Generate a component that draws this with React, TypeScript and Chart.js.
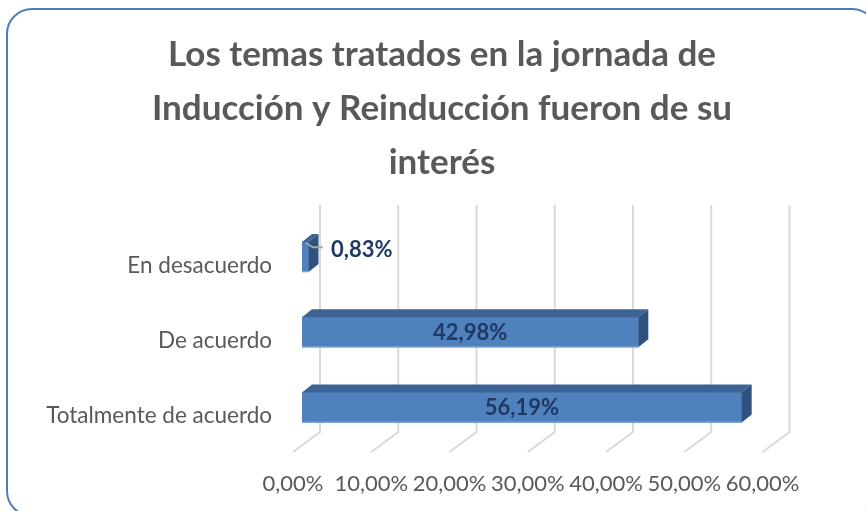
import React, { useEffect, useRef } from 'react';
import { Chart, registerables } from 'chart.js';

Chart.register(...registerables);

const TITLE_LINES = [
  'Los temas tratados en la jornada de',
  'Inducción y Reinducción fueron de su',
  'interés',
];
const CATEGORIES = ['En desacuerdo', 'De acuerdo', 'Totalmente de acuerdo'];
const VALUES = [0.83, 42.98, 56.19];
const TICK_VALUES = [0, 10, 20, 30, 40, 50, 60];

const FONT = 'Lato, "Open Sans", sans-serif';
const TEXT_GRAY = '#595959';
const LABEL_NAVY = '#1F3864';
const BAR_FRONT = '#4F81BD';
const BAR_TOP = '#3D6396';
const BAR_SIDE = '#30517E';
const GRID = '#D9D9D9';

const fmt = (v: number) => v.toFixed(2).replace('.', ',') + '%';

const threeD = {
  id: 'threeD',
  beforeDatasetsDraw(chart: any) {
    const { ctx, chartArea, scales } = chart;
    const x = scales.x;
    const wallTop = chartArea.top - 14.5;
    const wallBottom = chartArea.bottom - 13;
    const floorFront = wallBottom + 20;
    ctx.save();
    ctx.strokeStyle = GRID;
    ctx.lineWidth = 2;
    x.ticks.forEach((t: any) => {
      const px = x.getPixelForValue(t.value) + 18;
      ctx.beginPath();
      ctx.moveTo(px, wallTop);
      ctx.lineTo(px, wallBottom);
      ctx.lineTo(px - 27, floorFront);
      ctx.stroke();
    });
    ctx.restore();
  },
  afterDatasetsDraw(chart: any) {
    const { ctx } = chart;
    const meta = chart.getDatasetMeta(0);
    const data = chart.data.datasets[0].data as number[];
    const dx = 10;
    const dy = -8;
    ctx.save();
    meta.data.forEach((el: any, i: number) => {
      const p = el.getProps(['x', 'y', 'base', 'height'], true);
      const x0 = Math.min(p.base, p.x);
      const x1 = Math.max(p.base, p.x);
      const yT = p.y - p.height / 2;
      const yB = p.y + p.height / 2;
      // top face
      ctx.fillStyle = BAR_TOP;
      ctx.beginPath();
      ctx.moveTo(x0, yT);
      ctx.lineTo(x1, yT);
      ctx.lineTo(x1 + dx, yT + dy);
      ctx.lineTo(x0 + dx, yT + dy);
      ctx.closePath();
      ctx.fill();
      // side face
      ctx.fillStyle = BAR_SIDE;
      ctx.beginPath();
      ctx.moveTo(x1, yT);
      ctx.lineTo(x1 + dx, yT + dy);
      ctx.lineTo(x1 + dx, yB + dy);
      ctx.lineTo(x1, yB);
      ctx.closePath();
      ctx.fill();
      // light bottom edge
      ctx.strokeStyle = '#7FA3D3';
      ctx.lineWidth = 1;
      ctx.beginPath();
      ctx.moveTo(x0, yB - 0.5);
      ctx.lineTo(x1, yB - 0.5);
      ctx.stroke();

      // data label
      const txt = fmt(data[i]);
      ctx.font = `bold 22px ${FONT}`;
      ctx.fillStyle = LABEL_NAVY;
      ctx.textBaseline = 'middle';
      const w = ctx.measureText(txt).width;
      if (w + 10 < x1 - x0) {
        ctx.textAlign = 'center';
        ctx.fillText(txt, (x0 + x1) / 2, p.y + 1);
      } else {
        ctx.strokeStyle = '#A6A6A6';
        ctx.lineWidth = 2;
        ctx.beginPath();
        ctx.moveTo(x1 - 2.5, p.y - 14.3);
        ctx.lineTo(x1 + 4.2, p.y - 9.7);
        ctx.lineTo(x1 + 14.2, p.y - 9.7);
        ctx.stroke();
        ctx.textAlign = 'left';
        ctx.fillText(txt, x1 + 22.5, p.y - 7);
      }
    });
    ctx.restore();
  },
};

export default function App() {
  const ref = useRef<HTMLCanvasElement | null>(null);
  useEffect(() => {
    if (!ref.current) return;
    const chart = new Chart(ref.current, {
      type: 'bar',
      data: {
        labels: CATEGORIES,
        datasets: [
          {
            data: VALUES,
            backgroundColor: BAR_FRONT,
            borderWidth: 0,
            barThickness: 30,
          },
        ],
      },
      options: {
        animation: false,
        responsive: false,
        indexAxis: 'y',
        layout: { padding: { left: 112.5, right: 94.5, top: 0, bottom: 0 } },
        plugins: {
          legend: { display: false },
          tooltip: { enabled: false },
          title: {
            display: true,
            text: TITLE_LINES,
            color: TEXT_GRAY,
            font: { family: FONT, size: 35, weight: 'bold', lineHeight: '54px' },
            padding: { top: 28, bottom: 29.4 },
          },
        },
        scales: {
          x: {
            type: 'linear',
            min: 0,
            max: 60,
            afterBuildTicks: (axis: any) => {
              axis.ticks = TICK_VALUES.map((v) => ({ value: v }));
            },
            afterFit: (s: any) => {
              s.height = 66;
            },
            grid: { display: false, drawTicks: false },
            border: { display: false },
            ticks: {
              autoSkip: false,
              maxRotation: 0,
              minRotation: 0,
              padding: 26,
              labelOffset: -9,
              color: TEXT_GRAY,
              font: { family: FONT, size: 22 },
              callback: (v: any) => fmt(Number(v)),
            },
          },
          y: {
            type: 'category',
            afterFit: (s: any) => {
              s.width = 189.5;
              // let long category labels extend past the axis box
              s._computeLabelArea = () => undefined;
            },
            grid: { display: false, drawTicks: false },
            border: { display: false },
            ticks: {
              padding: 30,
              labelOffset: 8.5,
              color: TEXT_GRAY,
              font: { family: FONT, size: 22.5 },
            },
          },
        },
      },
      plugins: [threeD],
    } as any);
    return () => chart.destroy();
  }, []);

  return (
    <div
      style={{
        position: 'fixed',
        left: 0,
        top: 0,
        width: 866,
        height: 511,
        overflow: 'hidden',
        background: '#ffffff',
      }}
    >
      <canvas
        ref={ref}
        width={866}
        height={511}
        style={{ position: 'absolute', left: 0, top: 0, width: 866, height: 511, display: 'block' }}
      />
      <div
        style={{
          position: 'absolute',
          left: 6,
          top: 8,
          width: 872,
          height: 509,
          border: '2.5px solid #4A7EBB',
          borderRadius: 26,
          boxSizing: 'border-box',
          pointerEvents: 'none',
        }}
      />
    </div>
  );
}
